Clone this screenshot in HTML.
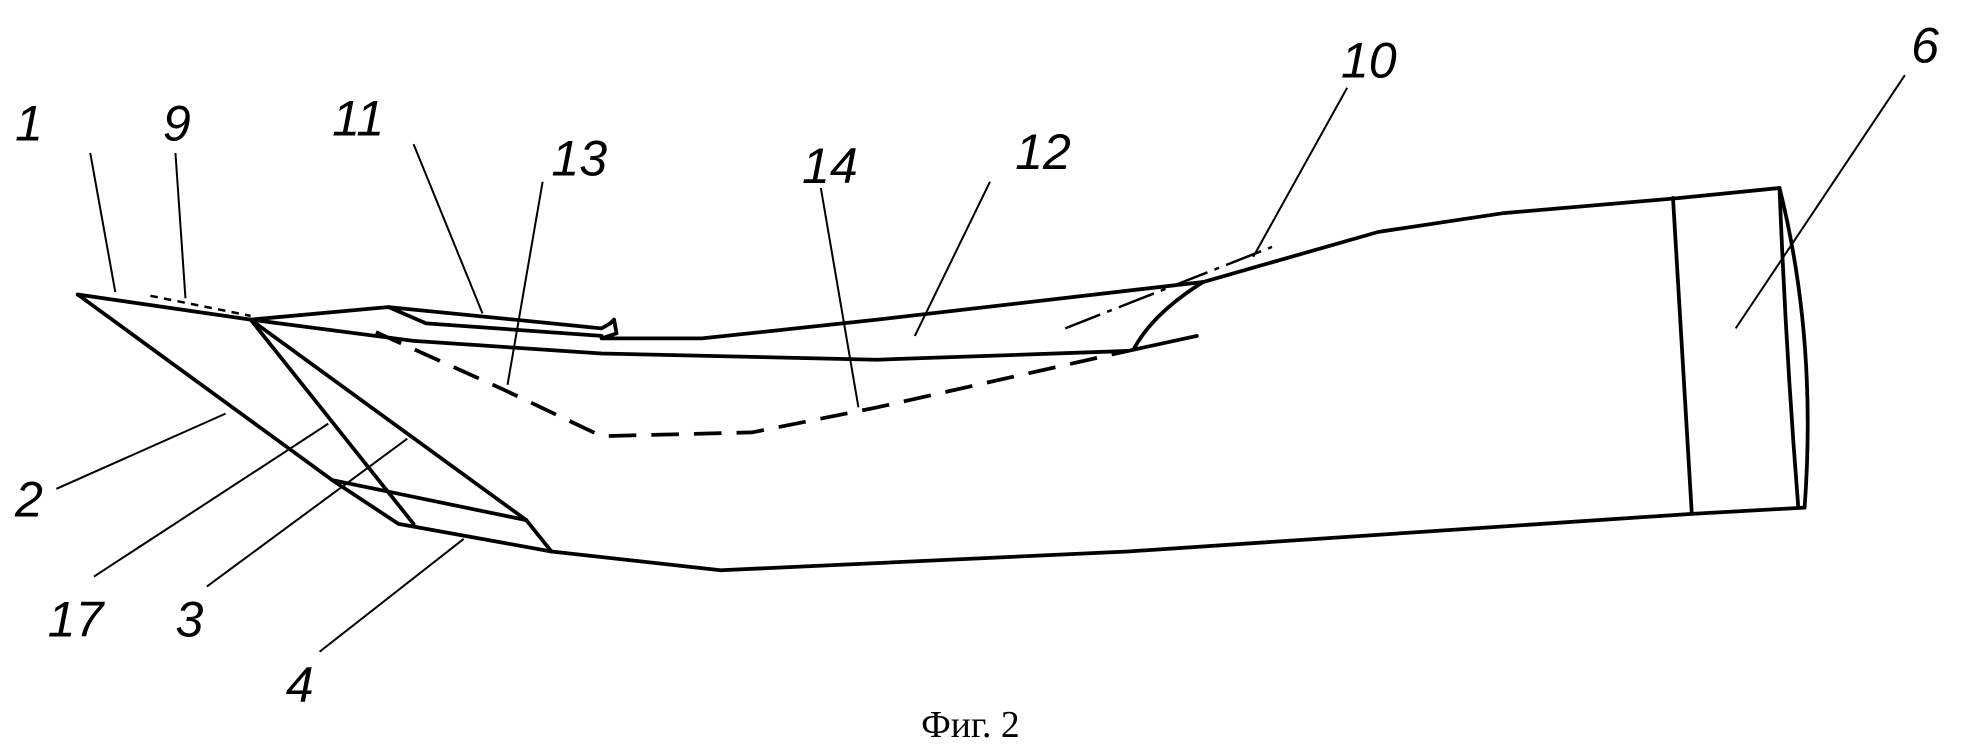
<!DOCTYPE html>
<html><head><meta charset="utf-8"><style>
html,body{margin:0;padding:0;background:#fff;}
svg{display:block;}
.l{font-family:"Liberation Sans",sans-serif;font-style:italic;font-size:40px;fill:#000;}
</style></head><body>
<svg width="1965" height="747" viewBox="0 0 1568 596" preserveAspectRatio="none" xmlns="http://www.w3.org/2000/svg">
<g fill="none" stroke="#000" stroke-width="3" stroke-linejoin="round" stroke-linecap="round">
<!-- top contour -->
<polyline points="62,235 200,255"/>
<polyline points="200,255 310,245 480,262 487,258 490,255 492,266 480,270 560,270 700,255 960,225 1100,185 1200,170 1340,158 1420,150"/>
<polyline points="200,255 330,272 480,282 700,287 900,280 955,268"/>
<polyline points="310,245 340,258 480,268"/>
<!-- end cap -->
<polyline points="1335,158 1350,410"/>
<path d="M1420,150 Q1450,270 1440,405"/>
<path d="M1420,150 Q1425,280 1435,405"/>
<polyline points="1440,405 1350,410 900,440 575,455 440,440"/>
<!-- nozzle -->
<polyline points="62,235 265,383 318,418 440,440"/>
<polyline points="200,255 330,418"/>
<polyline points="200,255 420,415 440,440"/>
<polyline points="265,383 420,415"/>
<path d="M905,278 Q920,250 960,225"/>
</g>
<g fill="none" stroke="#000" stroke-width="3">
<polyline stroke-dasharray="22,12" points="300,265 400,310 480,348 600,345 700,325 900,280"/>
<polyline stroke-dasharray="30,6,4,6" stroke-width="2" points="850,262 1015,197"/>
<polyline stroke-dasharray="6,5" stroke-width="2" points="120,236 200,252"/>
</g>
<g stroke="#000" stroke-width="1.6">
<line x1="72" y1="122" x2="92" y2="233"/>
<line x1="140" y1="122" x2="148" y2="238"/>
<line x1="330" y1="115" x2="385" y2="250"/>
<line x1="433" y1="145" x2="405" y2="307"/>
<line x1="655" y1="150" x2="685" y2="325"/>
<line x1="790" y1="145" x2="730" y2="268"/>
<line x1="1075" y1="70" x2="1000" y2="205"/>
<line x1="1520" y1="60" x2="1385" y2="262"/>
<line x1="45" y1="390" x2="180" y2="330"/>
<line x1="75" y1="460" x2="262" y2="338"/>
<line x1="165" y1="468" x2="325" y2="350"/>
<line x1="255" y1="520" x2="370" y2="430"/>
</g>
<text class="l" x="12" y="112">1</text>
<text class="l" x="130" y="112">9</text>
<text class="l" x="265" y="108">11</text>
<text class="l" x="440" y="140">13</text>
<text class="l" x="640" y="146">14</text>
<text class="l" x="810" y="135">12</text>
<text class="l" x="1070" y="62">10</text>
<text class="l" x="1525" y="50">6</text>
<text class="l" x="12" y="412">2</text>
<text class="l" x="38" y="508">17</text>
<text class="l" x="140" y="508">3</text>
<text class="l" x="228" y="560">4</text>
<text x="735" y="588" style="font-family:'Liberation Serif',serif;font-size:30px;">Фиг. 2</text>
</svg>
</body></html>
